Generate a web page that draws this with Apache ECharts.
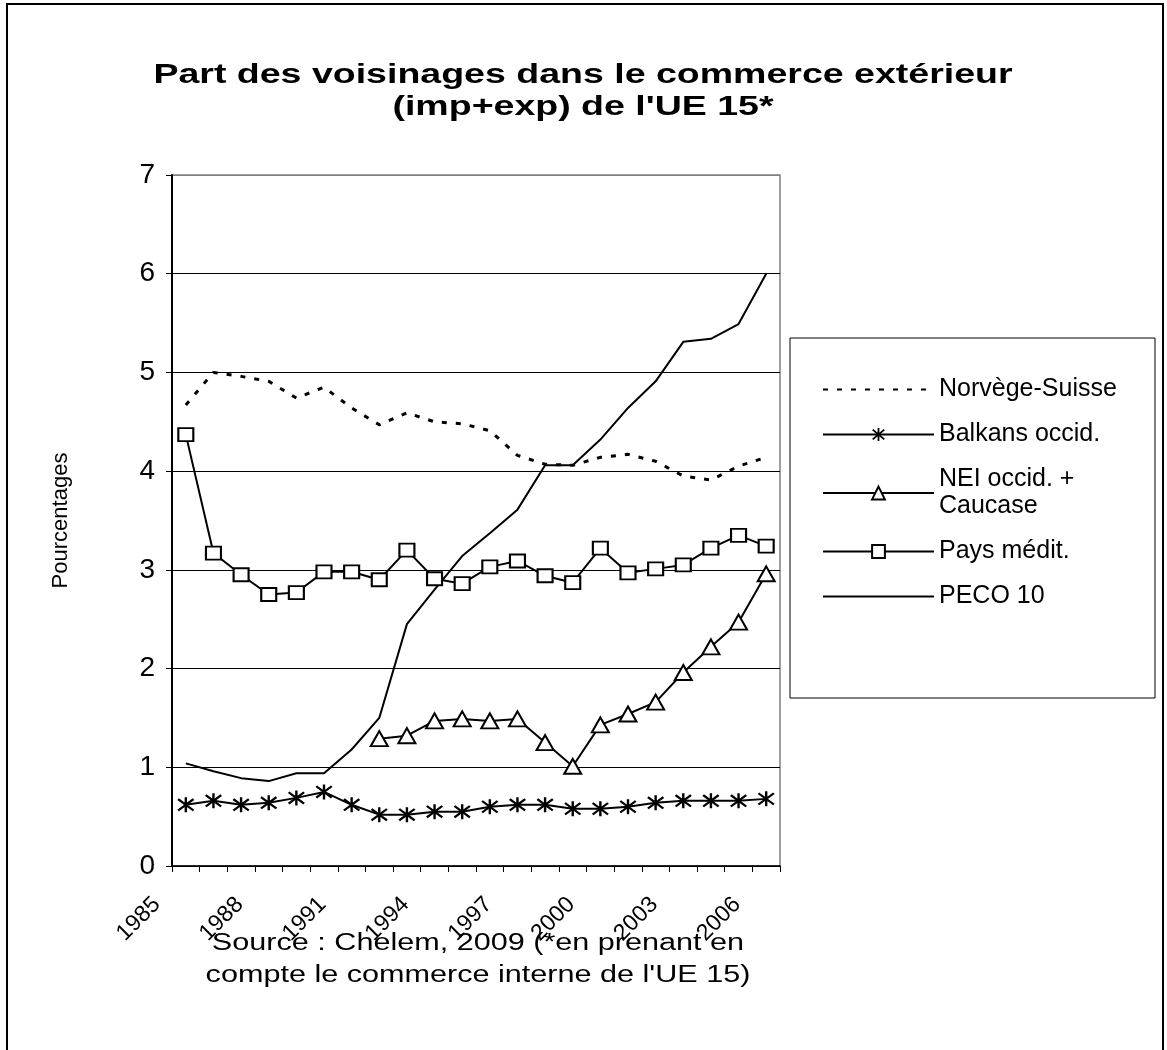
<!DOCTYPE html>
<html>
<head>
<meta charset="utf-8">
<script src="https://cdn.jsdelivr.net/npm/echarts@6/dist/echarts.min.js"></script>
<style>
html,body{margin:0;padding:0;background:#fff;}
#chart{width:1167px;height:1050px;}
</style>
</head>
<body>
<div id="chart"></div>
<script>
/* Part des voisinages dans le commerce extérieur de l'UE 15 — line chart, 1985-2006 */
var years = ["1985","1986","1987","1988","1989","1990","1991","1992","1993","1994","1995",
             "1996","1997","1998","1999","2000","2001","2002","2003","2004","2005","2006"];
var norvegeSuisse = [4.67,5.00,4.96,4.91,4.74,4.85,4.64,4.47,4.59,4.50,4.48,
                     4.41,4.16,4.07,4.06,4.14,4.17,4.10,3.95,3.91,4.05,4.14];
var balkans = [0.62,0.66,0.62,0.64,0.69,0.75,0.62,0.52,0.52,0.55,0.55,
               0.60,0.62,0.62,0.58,0.58,0.60,0.64,0.66,0.66,0.66,0.68];
var neiCaucase = [null,null,null,null,null,null,null,1.29,1.32,1.47,1.49,
                  1.47,1.49,1.25,1.01,1.43,1.54,1.66,1.96,2.22,2.47,2.96];
var paysMedit = [4.37,3.17,2.95,2.75,2.77,2.98,2.98,2.90,3.20,2.91,2.86,
                 3.03,3.09,2.94,2.87,3.22,2.97,3.01,3.05,3.22,3.35,3.24];
var peco10 = [1.04,0.96,0.89,0.86,0.94,0.94,1.18,1.50,2.45,2.80,3.14,
              3.37,3.61,4.06,4.06,4.32,4.64,4.91,5.31,5.34,5.49,6.00];
var yTicks = [0,1,2,3,4,5,6,7];
var titleText = "Part des voisinages dans le commerce extérieur\n(imp+exp) de l'UE 15*";
var sourceText = "Source : Chelem, 2009 (*en prenant en\ncompte le commerce interne de l'UE 15)";

var FONT = '"Liberation Sans", Arial, sans-serif';
var ASTERISK = "path://M43 0L57 0L57 100L43 100Z" +
  "M9.5 6.7L99.5 82.7L90.5 93.3L0.5 17.3Z" +
  "M99.5 17.3L9.5 93.3L0.5 82.7L90.5 6.7Z";
var NO_MARK = {color:"rgba(0,0,0,0)", borderColor:"rgba(0,0,0,0)", borderWidth:0};

function line(name, data, symbol, size, extra){
  var s = {
    type:"line", name:name, data:data, symbol:symbol, symbolSize:size,
    showSymbol: symbol !== "none",
    lineStyle:{color:"#000", width:2},
    itemStyle:{color:"#000", borderColor:"#000", borderWidth:2},
    emphasis:{disabled:true}, animation:false, connectNulls:false
  };
  for(var k in extra) s[k] = extra[k];
  return s;
}

var ch = echarts.init(document.getElementById("chart"), null, {renderer:"canvas"});
ch.setOption({
  animation:false,
  backgroundColor:"#fff",
  textStyle:{fontFamily:FONT, color:"#000"},
  grid:[
    { left:172, right:387, top:175, bottom:184, show:true,
      borderColor:"#808080", borderWidth:1.5, containLabel:false },
    // same width, shifted left: only carries the slanted year labels
    { left:143, right:416, top:175, bottom:179, show:false, containLabel:false }
  ],
  xAxis:[{
    type:"category", data:years, boundaryGap:true,
    axisLine:{lineStyle:{color:"#000", width:1.5}},
    axisTick:{show:true, interval:0, length:6, lineStyle:{color:"#000", width:1}},
    axisLabel:{show:false},
    splitLine:{show:false}
  },{
    type:"category", data:years, boundaryGap:true, gridIndex:1,
    axisLine:{show:false}, axisTick:{show:false}, splitLine:{show:false},
    axisLabel:{interval:2, rotate:45, fontSize:23, color:"#000", fontFamily:FONT, margin:30}
  }],
  yAxis:[{
    type:"value", min:yTicks[0], max:yTicks[yTicks.length-1], interval:1,
    name:"Pourcentages", nameLocation:"middle", nameGap:100, nameRotate:90,
    nameTextStyle:{fontSize:22, color:"#000", fontFamily:FONT},
    axisLine:{show:true, lineStyle:{color:"#000", width:2}},
    axisTick:{show:true, length:6, lineStyle:{color:"#000", width:1}},
    axisLabel:{fontSize:28, color:"#000", fontFamily:FONT, margin:17},
    splitLine:{show:true, lineStyle:{width:1,
      color:["#000","#000","#000","#000","#000","#000","#000","#808080"]}}
  },{
    type:"value", gridIndex:1, min:yTicks[0], max:yTicks[yTicks.length-1], show:false
  }],
  legend:{
    orient:"vertical", left:822, top:376, padding:0,
    itemWidth:111, itemHeight:16, itemGap:18, selectedMode:false,
    textStyle:{fontSize:25, lineHeight:27, color:"#000", fontFamily:FONT},
    formatter:function(n){ return n === "NEI occid. + Caucase" ? "NEI occid. +\nCaucase" : n; },
    data:[
      {name:"Norvège-Suisse", itemStyle:NO_MARK},
      {name:"Balkans occid."},
      {name:"NEI occid. + Caucase"},
      {name:"Pays médit."},
      {name:"PECO 10", itemStyle:NO_MARK}
    ]
  },
  graphic:[
    { type:"rect", z:0, silent:true,
      shape:{x:7, y:4, width:1156, height:1100},
      style:{fill:"none", stroke:"#000", lineWidth:2} },
    { type:"rect", z:0, silent:true,
      shape:{x:790, y:338, width:365, height:360},
      style:{fill:"#fff", stroke:"#000", lineWidth:1} },
    { type:"text", x:583, y:91, scaleX:1.34, silent:true,
      style:{text:titleText, align:"center", verticalAlign:"middle",
             font:"bold 28px " + FONT, lineHeight:32, fill:"#000"} },
    { type:"text", x:478, y:960, scaleX:1.33, silent:true,
      style:{text:sourceText, align:"center", verticalAlign:"middle",
             font:"23px " + FONT, lineHeight:32, fill:"#000"} }
  ],
  series:[
    line("Norvège-Suisse", norvegeSuisse, "none", 0,
         {lineStyle:{color:"#000", width:3, type:[5,9]}, z:2}),
    line("Balkans occid.", balkans, ASTERISK, [17,15],
         {itemStyle:{color:"#000", borderWidth:0}, z:3}),
    line("NEI occid. + Caucase", neiCaucase, "emptyTriangle", [17,15], {z:3}),
    line("Pays médit.", paysMedit, "emptyRect", [15,13], {z:3}),
    line("PECO 10", peco10, "none", 0, {z:2})
  ]
});
</script>
</body>
</html>
